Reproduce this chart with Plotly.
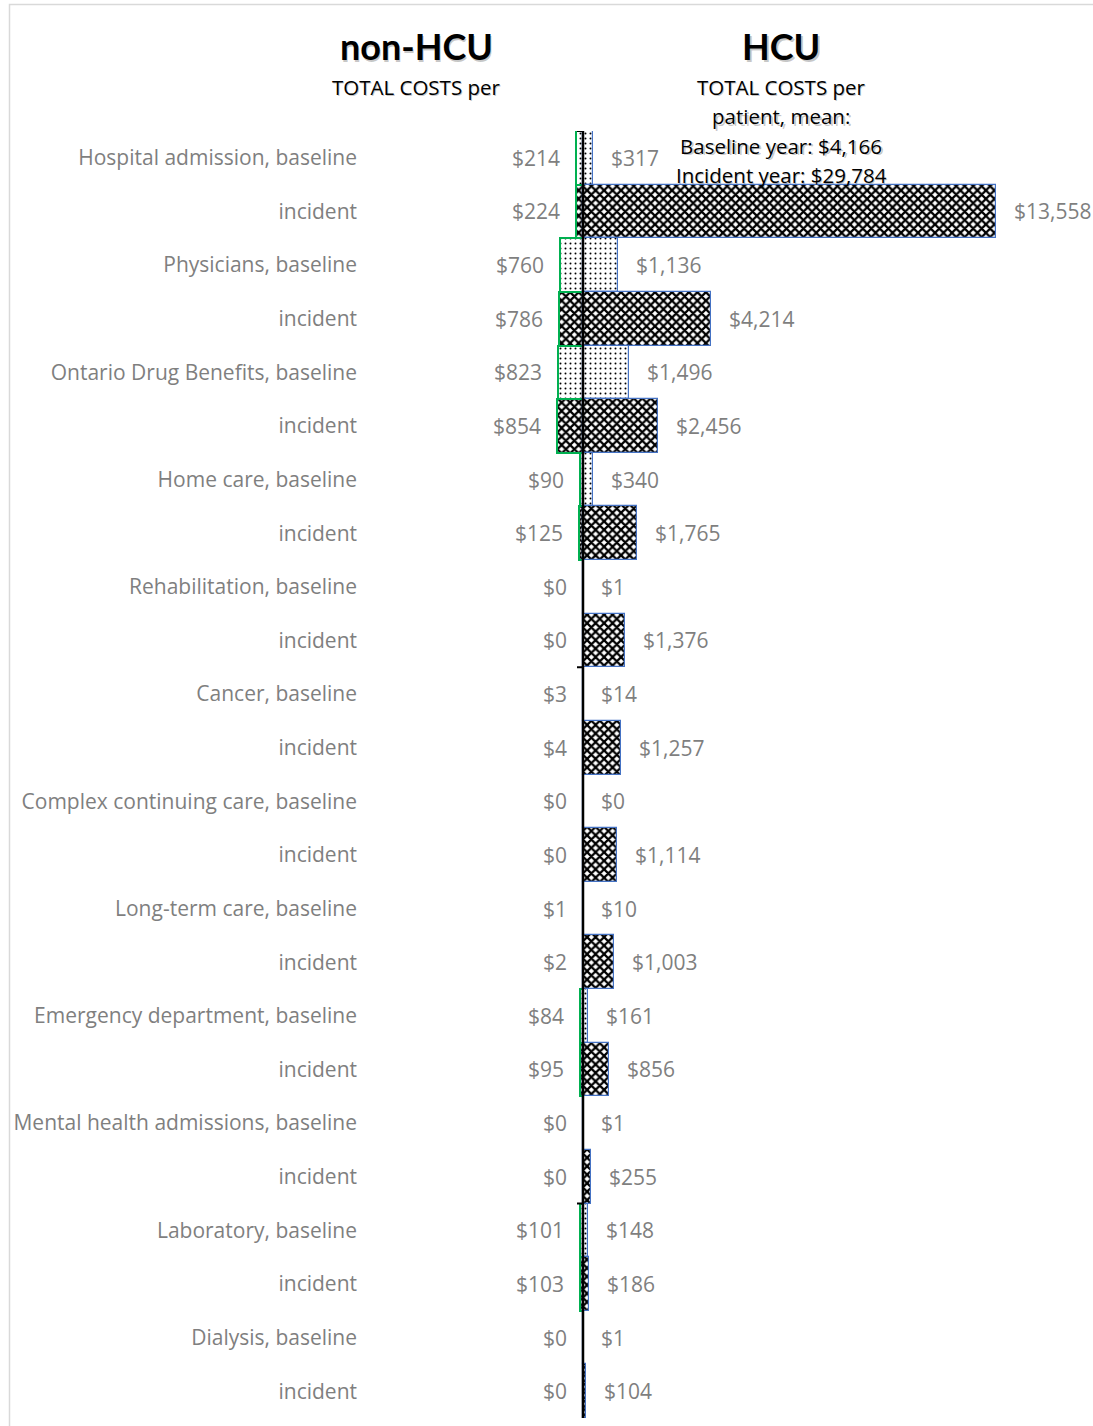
import plotly.graph_objects as go

# ---- data -------------------------------------------------------------
categories = [
    "Hospital admission, baseline", "incident",
    "Physicians, baseline", "incident",
    "Ontario Drug Benefits, baseline", "incident",
    "Home care, baseline", "incident",
    "Rehabilitation, baseline", "incident",
    "Cancer, baseline", "incident",
    "Complex continuing care, baseline", "incident",
    "Long-term care, baseline", "incident",
    "Emergency department, baseline", "incident",
    "Mental health admissions, baseline", "incident",
    "Laboratory, baseline", "incident",
    "Dialysis, baseline", "incident",
]
period = ["baseline", "incident"] * 12

non_hcu_costs = [214, 224, 760, 786, 823, 854, 90, 125, 0, 0, 3, 4,
                 0, 0, 1, 2, 84, 95, 0, 0, 101, 103, 0, 0]
hcu_costs = [317, 13558, 1136, 4214, 1496, 2456, 340, 1765, 1, 1376, 14, 1257,
             0, 1114, 10, 1003, 161, 856, 1, 255, 148, 186, 1, 104]

left_title = "non-HCU"
left_subtitle = "TOTAL COSTS per"
right_title = "HCU"
right_subtitle = ["TOTAL COSTS per", "patient, mean:",
                  "Baseline year: $4,166", "Incident year: $29,784"]

# ---- layout geometry ----------------------------------------------------
W, H = 1093, 1426
L, R, T, B = 358, 0, 131, 8
ZERO_PX = 583                 # horizontal position of the zero line
DOLLARS_PER_PX = 13558 / 413  # horizontal scale
plot_w = W - L - R
plot_h = H - T - B
x_min = -(ZERO_PX - L) * DOLLARS_PER_PX
x_max = (W - R - ZERO_PX) * DOLLARS_PER_PX


def px_to_paper_x(px):
    return (px - L) / plot_w


def px_to_paper_y(py):
    return (H - B - py) / plot_h


GRAY = "#7F7F7F"
FONT = "Open Sans"
TITLE_FONT = "Lato"
LABEL_SIZE = 21
ypos = list(range(len(categories)))

shapes_pat = ["." if p == "baseline" else "x" for p in period]
sizes_pat = [5 if p == "baseline" else 6 for p in period]
solid_pat = [0.12 if p == "baseline" else 0.6 for p in period]

fig = go.Figure()

fig.add_trace(go.Bar(
    y=ypos, x=[-v for v in non_hcu_costs], base=0, orientation="h",
    marker=dict(color="white", line=dict(color="#00B050", width=2),
                pattern=dict(shape=shapes_pat, size=sizes_pat, solidity=solid_pat,
                             fgcolor="black", bgcolor="white", fillmode="replace")),
    showlegend=False, hoverinfo="skip",
))
fig.add_trace(go.Bar(
    y=ypos, x=hcu_costs, base=0, orientation="h",
    marker=dict(color="white", line=dict(color="#4472C4", width=1.2),
                pattern=dict(shape=shapes_pat, size=sizes_pat, solidity=solid_pat,
                             fgcolor="black", bgcolor="white", fillmode="replace")),
    showlegend=False, hoverinfo="skip",
))

annotations = []
# value labels beside the bar ends
for yi, v in zip(ypos, non_hcu_costs):
    annotations.append(dict(x=-v, y=yi, xref="x", yref="y", text=f"${v:,}",
                            showarrow=False, xanchor="right", xshift=-14,
                            font=dict(family=FONT, size=LABEL_SIZE, color=GRAY)))
for yi, v in zip(ypos, hcu_costs):
    annotations.append(dict(x=v, y=yi, xref="x", yref="y", text=f"${v:,}",
                            showarrow=False, xanchor="left", xshift=16,
                            font=dict(family=FONT, size=LABEL_SIZE, color=GRAY)))


def header(text, cx, cy, size, family, bold=False):
    t = f"<b>{text}</b>" if bold else text
    # soft drop shadow then the text itself
    for dx, dy, col in [(1.5, -1.5, "rgba(0,0,0,0.22)"), (0, 0, "black")]:
        annotations.append(dict(x=px_to_paper_x(cx), y=px_to_paper_y(cy),
                                xref="paper", yref="paper", text=t,
                                showarrow=False, xanchor="center", yanchor="middle",
                                xshift=dx, yshift=dy,
                                font=dict(family=family, size=size, color=col)))


header(left_title, 416, 46, 36, TITLE_FONT, bold=True)
header(left_subtitle, 416, 87, 20.5, FONT)
header(right_title, 781, 46, 36, TITLE_FONT, bold=True)
for i, line in enumerate(right_subtitle):
    header(line, 781, 87 + i * 29.3, 20.5, FONT)

shapes = [
    # outer frame
    dict(type="rect", xref="paper", yref="paper",
         x0=px_to_paper_x(9.5), x1=px_to_paper_x(W + 5),
         y0=px_to_paper_y(H + 5), y1=px_to_paper_y(4.5),
         line=dict(color="#D9D9D9", width=1.5), layer="below"),
    # vertical zero axis
    dict(type="line", xref="x", yref="paper", x0=0, x1=0, y0=0, y1=1,
         line=dict(color="black", width=2.5), layer="above"),
]
# category-axis tick marks every 10 categories
for k in range(0, len(categories), 10):
    shapes.append(dict(type="line", xref="x", yref="y",
                       x0=-6 * DOLLARS_PER_PX, x1=0, y0=k - 0.5, y1=k - 0.5,
                       line=dict(color="black", width=2), layer="above"))

fig.update_layout(
    width=W, height=H,
    margin=dict(l=L, r=R, t=T, b=B),
    paper_bgcolor="white", plot_bgcolor="white",
    barmode="overlay", bargap=0,
    xaxis=dict(range=[x_min, x_max], visible=False, fixedrange=True),
    yaxis=dict(range=[len(categories) - 0.5, -0.5], tickvals=ypos, ticktext=categories,
               showgrid=False, zeroline=False, showline=False, ticks="",
               tickfont=dict(family=FONT, size=LABEL_SIZE, color=GRAY)),
    annotations=annotations,
    shapes=shapes,
    font=dict(family=FONT),
)

fig.write_html("out.html")
